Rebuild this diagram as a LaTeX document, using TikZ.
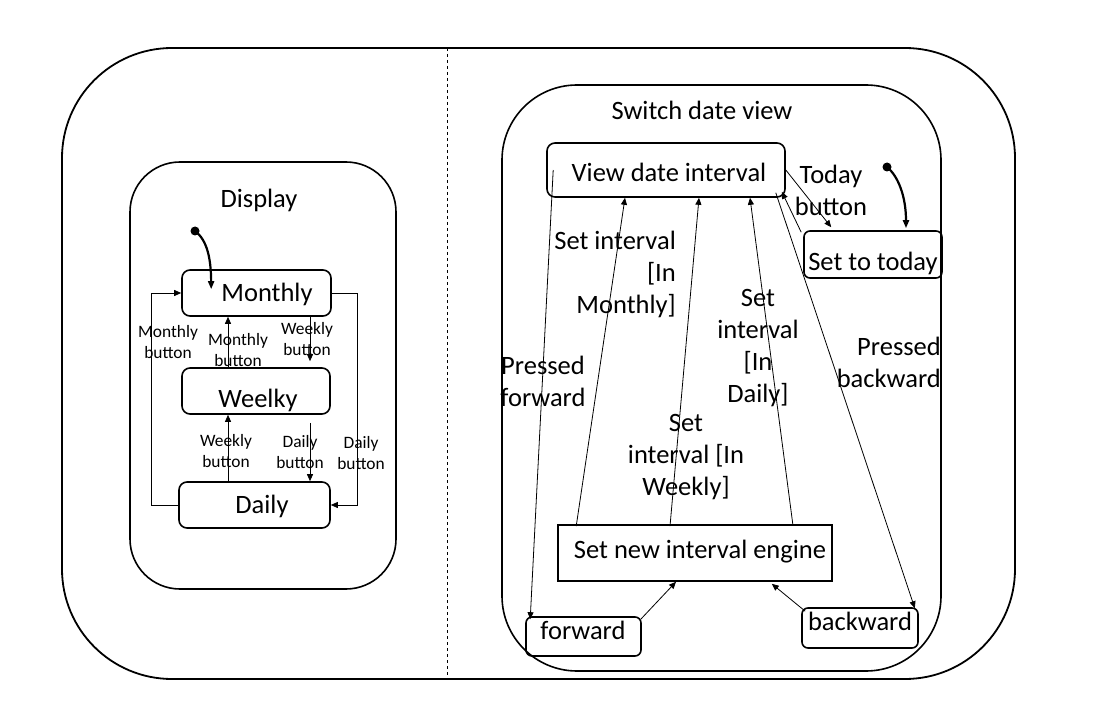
\documentclass[tikz,border=0pt]{standalone}
\usepackage{fontspec}
\setmainfont{Carlito}
\usetikzlibrary{calc,arrows.meta}
\begin{document}
\begin{tikzpicture}[x=1pt,y=-1pt,
  box/.style={draw, line width=1.6pt, rounded corners=8pt, inner sep=0pt},
  sharpbox/.style={draw, line width=1.6pt, inner sep=0pt},
  big/.style={font=\fontsize{26.5}{32}\selectfont, inner sep=0pt, align=center},
  small/.style={font=\fontsize{17.4}{21}\selectfont, inner sep=0pt, align=center},
  conn/.style={line width=0.8pt, -{Triangle[length=7pt,width=6pt]}},
  plain/.style={line width=0.8pt},
  init/.style={line width=2.2pt, -{Triangle[length=8pt,width=6pt]}}]
\useasboundingbox (0,0) rectangle (1114,714);

% containers
\node[draw, line width=1.8pt, rounded corners=110pt, minimum width=953pt, minimum height=631pt, inner sep=0pt] (outer) at (538.5,363.5) {};
\draw[dashed, line width=0.8pt] (447,48) -- (447,679);
\node[draw, line width=1.6pt, rounded corners=50pt, minimum width=266pt, minimum height=427pt, inner sep=0pt] (display) at (263,375.5) {};
\node[big] (displayt) at (259,200) {Display};
\node[draw, line width=1.6pt, rounded corners=75pt, minimum width=439pt, minimum height=586pt, inner sep=0pt] (switch) at (721.5,378) {};
\node[big] (switcht) at (702,110) {Switch date view};

% display states
\node[box, minimum width=149pt, minimum height=46pt] (mon) at (256.5,293) {};
\node[big] (mont) at (267,294) {Monthly};
\node[box, minimum width=148pt, minimum height=46pt] (wee) at (256,391) {};
\node[big] (weet) at (258,400) {Weelky};
\node[box, minimum width=151pt, minimum height=46pt] (dai) at (254.5,505) {};
\node[big] (dait) at (262,506) {Daily};

\coordinate (i1) at (195,231);
\fill (i1) circle (4.5pt);
\draw[init] (i1) .. controls (207,240) and (211,258) .. ($(mon.north west)+(30,20)$);

\draw[conn] (dai.west) -- ++(-27,0) |- (mon.west);
\draw[conn] (mon.east) -- ++(26,0) |- (dai.east);
\draw[conn] ($(wee.north)+(-28,0)$) -- ($(mon.south)+(-28.5,0)$);
\draw[conn] ($(mon.south)+(53.5,0)$) -- ($(wee.north)+(54,-6)$);
\draw[conn] ($(dai.north)+(-26.5,0)$) -- ($(wee.south)+(-28,0)$);
\draw[conn] ($(wee.south)+(54,8)$) -- ($(dai.north)+(55.5,0)$);

\node[small] (l1) at (168,342) {Monthly\\button};
\node[small] (l2) at (238,350) {Monthly\\button};
\node[small] (l3) at (307,339) {Weekly\\button};
\node[small] (l4) at (226,451) {Weekly\\button};
\node[small] (l5) at (300,452) {Daily\\button};
\node[small] (l6) at (361,453) {Daily\\button};

% switch states
\node[box, minimum width=238pt, minimum height=54pt] (view) at (666,170) {};
\node[big] (viewt) at (669,172) {View date interval};
\node[box, rounded corners=6pt, minimum width=138pt, minimum height=47pt] (today) at (873,254.5) {};
\node[big] (todayt) at (873,263) {Set to today};
\node[sharpbox, minimum width=274pt, minimum height=56pt] (eng) at (695,553) {};
\node[big] (engt) at (700,552) {Set new interval engine};
\node[box, rounded corners=6pt, minimum width=115pt, minimum height=39pt] (fwd) at (583.5,636.5) {};
\node[big] (fwdt) at (583,630) {forward};
\node[box, rounded corners=6pt, minimum width=116pt, minimum height=40pt] (bwd) at (860,628) {};
\node[big] (bwdt) at (860,621) {backward};

\coordinate (i2) at (887,167);
\fill (i2) circle (4.5pt);
\draw[init] (i2) .. controls (898,176) and (906,196) .. ($(today.north)+(33,-2)$);

\draw[conn] (view.east) -- ($(today.north west)+(28,-3)$);
\draw[conn] ($(today.north west)+(-2,2)$) -- ($(view.south east)+(-4,-6)$);
\draw[conn] ($(view.west)+(7,0)$) -- ($(fwd.north west)+(5,3)$);
\draw[conn] ($(eng.north west)+(19,2)$) -- ($(view.south)+(-41,0)$);
\draw[conn] ($(eng.north)+(-25,2)$) -- ($(view.south)+(33,0)$);
\draw[conn] ($(eng.north east)+(-40,0)$) -- ($(view.south)+(84,0)$);
\draw[conn] ($(view.south east)+(-10,-5)$) -- ($(bwd.north east)+(-4,1)$);
\draw[conn] ($(fwd.north east)+(-1,3)$) -- ($(eng.south)+(-19,0)$);
\draw[conn] ($(bwd.north west)+(4,4)$) -- ($(eng.south east)+(-61,2)$);

\node[big] (t1) at (831,190) {Today\\button};
\node[big, align=right, anchor=east] (t2) at (676,274) {Set interval\\{[In}\\Monthly]};
\node[big] (t3) at (758,348) {Set\\interval\\{[In}\\Daily]};
\node[big] (t4) at (686,457) {Set\\interval [In\\Weekly]};
\node[big] (t5) at (543,381) {Pressed\\forward};
\node[big, align=right, anchor=east] (t6) at (941,362) {Pressed\\backward};
\end{tikzpicture}
\end{document}
